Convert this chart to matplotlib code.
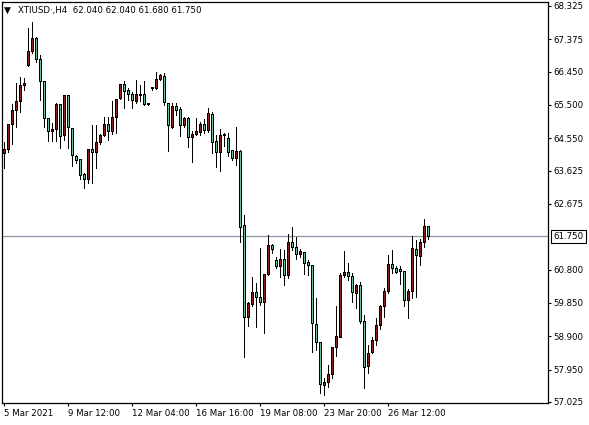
import matplotlib
matplotlib.use("Agg")
import matplotlib.pyplot as plt
import numpy as np

# ---- data ----
opens = [64.12, 64.24, 64.93, 65.34, 65.61, 66.07, 66.62, 67.04, 67.39, 66.80,
         66.17, 65.12, 64.74, 64.79, 65.50, 64.62, 65.76, 64.83, 64.04, 63.93,
         63.52, 63.38, 64.23, 64.15, 64.43, 64.64, 64.95, 64.74, 65.13, 65.68,
         66.09, 65.90, 65.80, 65.60, 65.78, 65.80, 65.52, 65.97, 65.97, 66.24,
         66.31, 65.55, 64.86, 65.45, 65.36, 64.90, 65.10, 64.58, 64.67, 64.72,
         64.95, 64.77, 65.22, 64.45, 64.14, 64.62, 64.55, 64.19, 63.98, 64.17,
         62.05, 59.43, 59.81, 60.15, 60.01, 59.86, 60.67, 61.48, 61.05, 60.89,
         61.10, 60.62, 61.58, 61.44, 61.24, 61.29, 61.00, 60.93, 59.24, 58.73,
         57.49, 57.58, 57.82, 58.59, 58.87, 60.62, 60.73, 60.60, 60.13, 60.34,
         59.32, 58.03, 58.43, 58.77, 59.22, 59.74, 60.17, 60.96, 60.84, 60.80,
         60.76, 59.91, 60.19, 61.38, 61.17, 61.57, 62.04]
highs = [64.43, 64.95, 65.52, 66.12, 66.31, 66.28, 67.69, 67.88, 67.45, 66.93,
         66.19, 65.12, 64.98, 65.55, 65.52, 65.79, 65.76, 64.83, 64.07, 63.93,
         63.57, 64.24, 64.93, 64.93, 64.66, 65.15, 65.15, 65.60, 65.66, 66.09,
         66.17, 65.98, 65.88, 66.21, 66.07, 66.19, 65.53, 66.01, 66.45, 66.39,
         66.41, 65.57, 65.55, 65.57, 65.45, 65.15, 65.15, 64.77, 65.12, 65.00,
         65.09, 65.42, 65.31, 64.64, 64.82, 64.71, 64.71, 64.19, 64.88, 64.22,
         62.36, 59.89, 60.58, 60.43, 61.41, 60.67, 61.79, 61.53, 61.15, 61.38,
         61.36, 61.82, 62.03, 61.74, 61.38, 61.31, 61.08, 60.93, 59.98, 58.73,
         57.70, 58.08, 58.60, 59.76, 60.71, 61.34, 60.98, 60.71, 60.39, 60.46,
         59.50, 58.65, 58.89, 59.41, 59.79, 60.27, 61.22, 61.36, 60.89, 60.89,
         60.76, 60.24, 61.76, 61.65, 61.67, 62.24, 62.04]
lows = [63.69, 64.15, 64.38, 64.88, 65.31, 65.93, 66.60, 66.98, 66.73, 65.64,
        64.88, 64.48, 64.48, 64.48, 64.28, 64.50, 64.28, 63.77, 63.83, 63.39,
        63.12, 63.27, 63.27, 63.69, 64.40, 64.61, 64.50, 64.67, 64.69, 65.66,
        65.41, 65.64, 65.41, 65.55, 65.60, 65.50, 65.49, 65.93, 65.95, 66.21,
        65.50, 64.20, 64.84, 65.22, 64.62, 64.88, 64.31, 63.88, 64.64, 64.64,
        64.69, 64.74, 64.12, 63.74, 63.62, 64.33, 64.03, 63.93, 63.79, 61.60,
        58.32, 59.20, 59.76, 59.17, 59.79, 59.00, 60.65, 61.27, 60.84, 60.60,
        60.36, 60.55, 61.36, 61.10, 61.17, 60.69, 60.66, 58.46, 58.51, 57.29,
        57.22, 57.44, 57.70, 58.34, 58.87, 60.58, 60.51, 59.89, 59.70, 59.27,
        57.41, 57.84, 58.41, 58.65, 59.10, 59.46, 60.14, 60.70, 60.70, 60.39,
        59.76, 59.41, 59.98, 60.01, 60.93, 61.46, 61.68]
closes = [64.24, 64.93, 65.34, 65.61, 66.07, 66.10, 67.04, 67.40, 66.80, 66.17,
          65.12, 64.74, 64.81, 65.50, 64.60, 65.78, 64.85, 64.07, 63.91, 63.50,
          63.38, 64.23, 64.15, 64.43, 64.64, 64.95, 64.74, 65.15, 65.66, 66.09,
          65.88, 65.80, 65.62, 65.80, 65.79, 65.52, 65.50, 65.99, 66.24, 66.33,
          65.57, 64.90, 65.45, 65.34, 64.90, 65.10, 64.58, 64.67, 64.74, 64.95,
          64.77, 65.25, 64.43, 64.14, 64.64, 64.65, 64.14, 63.98, 64.17, 62.01,
          59.43, 59.84, 60.15, 60.01, 59.86, 60.67, 61.48, 61.38, 60.89, 61.08,
          60.62, 61.58, 61.44, 61.24, 61.32, 60.98, 60.93, 59.25, 58.72, 57.53,
          57.59, 57.82, 58.59, 58.89, 60.62, 60.73, 60.60, 60.15, 60.36, 59.32,
          58.01, 58.41, 58.77, 59.22, 59.74, 60.17, 60.96, 60.84, 60.72, 60.74,
          59.91, 60.19, 61.41, 61.19, 61.57, 62.04, 61.75]

xtick_bars = [0, 16, 32, 48, 64, 80, 96]
xtick_labels = ["5 Mar 2021", "9 Mar 12:00", "12 Mar 04:00", "16 Mar 16:00",
                "19 Mar 08:00", "23 Mar 20:00", "26 Mar 12:00"]
ytick_values = [68.325, 67.375, 66.450, 65.500, 64.550, 63.625, 62.675,
                60.800, 59.850, 58.900, 57.950, 57.025]
last_price = 61.750
header = "XTIUSD\u00b7,H4  62.040 62.040 61.680 61.750"

# ---- figure ----
W, H = 589, 425
fig = plt.figure(figsize=(W / 100, H / 100), dpi=100)
fig.patch.set_facecolor("white")
ax = fig.add_axes([2 / W, (H - 403) / H, (548 - 2) / W, (403 - 2) / H])
ax.set_facecolor("white")

o = np.array(opens); h = np.array(highs); l = np.array(lows); c = np.array(closes)
x = np.arange(len(o))
up = c >= o
cols = np.where(up, "#d00000", "#2fdc98")

ylo, yhi = 56.994, 68.439
px_y = (yhi - ylo) / 401.0  # price per pixel
body_lo = np.minimum(o, c)
body_h = np.abs(c - o)

# wicks (1 px wide, on pixel column of bar centre)
ax.vlines(x + 0.125, l, h, color="black", linewidth=0.72, zorder=2,
          antialiased=False)
# body outline (black, 3 px) and fill (colour, inner)
ax.bar(x + 0.125, np.maximum(body_h, px_y) + px_y, bottom=body_lo - px_y / 2,
       width=0.75, color="black", linewidth=0, zorder=3)
inner_h = np.maximum(body_h - px_y, 0)
ax.bar(x + 0.125, inner_h, bottom=body_lo + px_y / 2, width=0.25,
       color=cols, linewidth=0, zorder=4)

ax.axhline(last_price, color="#8a96a3", linewidth=0.9, zorder=1)

ax.set_xlim(-0.375, 136.125)
ax.set_ylim(ylo, yhi)

for s in ax.spines.values():
    s.set_color("black")
    s.set_linewidth(0.9)

ax.yaxis.tick_right()
ax.set_yticks(ytick_values)
ax.set_yticklabels([f"{v:.3f}" for v in ytick_values])
ax.tick_params(axis="y", direction="out", length=2.5, width=0.8, pad=1.5,
               labelsize=6.2, colors="black")
ax.set_xticks(np.array(xtick_bars))
ax.set_xticklabels(xtick_labels, ha="left")
ax.tick_params(axis="x", direction="out", length=2.5, width=0.8, pad=1.5,
               labelsize=6.2, colors="black")

# current price label on the right axis
ax.annotate(f"{last_price:.3f}", xy=(1.0, last_price),
            xycoords=("axes fraction", "data"),
            xytext=(4, 0), textcoords="offset points",
            ha="left", va="center", fontsize=6.2, color="black",
            bbox=dict(boxstyle="square,pad=0.25", fc="white", ec="black", lw=0.8),
            annotation_clip=False)

# header
fig.text(4 / W, 1 - 10 / H, "\u25bc", fontsize=6.5, ha="left", va="center", color="black")
fig.text(18 / W, 1 - 10 / H, header, fontsize=6.2, ha="left", va="center", color="black")

fig.savefig("out.png", dpi=100, facecolor="white")
